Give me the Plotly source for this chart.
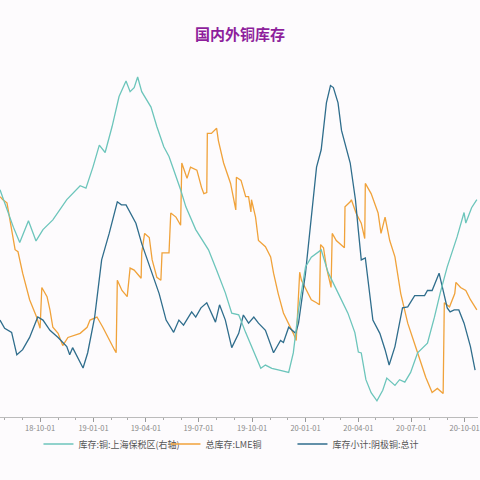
import plotly.graph_objects as go

# 库存:铜:上海保税区 (右轴, 万吨)
teal_dates = ["2018-07-24","2018-08-05","2018-08-16","2018-08-27","2018-09-11","2018-09-24","2018-10-06","2018-10-23","2018-11-16","2018-12-09",
              "2018-12-19","2018-12-31","2019-01-11","2019-01-21","2019-02-02","2019-02-14","2019-02-26","2019-03-05","2019-03-12","2019-03-18",
              "2019-03-25","2019-04-10","2019-04-20","2019-05-02","2019-05-11","2019-05-31","2019-06-09","2019-06-26","2019-07-18","2019-08-01",
              "2019-08-16","2019-08-27","2019-09-08","2019-09-20","2019-10-04","2019-10-16","2019-10-24","2019-11-04","2019-11-15","2019-12-03",
              "2019-12-11","2019-12-20","2020-01-01","2020-01-11","2020-01-28","2020-02-09","2020-02-26","2020-03-14","2020-03-26","2020-04-01",
              "2020-04-06","2020-04-14","2020-04-23","2020-05-03","2020-05-13","2020-05-20","2020-06-03","2020-06-11","2020-06-20","2020-06-30",
              "2020-07-12","2020-07-29","2020-08-10","2020-08-20","2020-09-01","2020-09-18","2020-09-30","2020-10-03","2020-10-13","2020-10-22"]
teal_vals = [48.0,45.5,43.4,41.5,44.2,41.7,43.1,44.3,46.8,48.5,
             48.2,50.8,53.5,52.6,55.8,59.5,61.4,60.1,60.6,61.9,
             60.1,58.2,55.8,53.3,52.1,48.0,45.9,43.1,40.6,38.1,
             35.3,32.8,32.6,30.4,27.9,26.0,26.4,26.0,25.8,25.5,
             27.9,33.2,38.5,39.7,40.6,37.8,35.3,32.8,30.4,28.0,
             27.9,24.6,23.0,22.0,23.3,24.8,23.9,24.6,24.3,25.5,
             27.9,29.1,32.3,35.3,38.5,42.2,45.2,43.9,45.8,46.8]

# 总库存:LME铜 (万吨)
lme_dates = ["2018-07-24","2018-07-29","2018-08-05","2018-08-10","2018-08-19","2018-08-24","2018-09-01","2018-09-13","2018-09-25","2018-10-01",
             "2018-10-04","2018-10-13","2018-10-18","2018-10-23","2018-11-01","2018-11-09","2018-11-18","2018-12-09","2018-12-21","2018-12-26",
             "2019-01-07","2019-01-17","2019-01-28","2019-02-06","2019-02-09","2019-02-11","2019-02-19","2019-02-28","2019-03-05","2019-03-12",
             "2019-03-24","2019-03-25","2019-03-30","2019-04-07","2019-04-12","2019-04-20","2019-04-27","2019-04-29","2019-05-11","2019-05-14",
             "2019-05-23","2019-05-31","2019-06-02","2019-06-11","2019-06-17","2019-06-28","2019-07-06","2019-07-10","2019-07-15","2019-07-16",
             "2019-07-23","2019-08-01","2019-08-04","2019-08-13","2019-08-25","2019-08-30","2019-09-03","2019-09-04","2019-09-12","2019-09-20",
             "2019-09-25","2019-09-29","2019-09-30","2019-10-07","2019-10-12","2019-10-24","2019-11-02","2019-11-07","2019-11-15","2019-11-24",
             "2019-12-03","2019-12-11","2019-12-16","2019-12-22","2019-12-25","2020-01-03","2020-01-11","2020-01-20","2020-01-25","2020-01-27",
             "2020-02-01","2020-02-06","2020-02-14","2020-02-16","2020-02-23","2020-03-08","2020-03-09","2020-03-18","2020-03-20","2020-03-28",
             "2020-04-06","2020-04-12","2020-04-13","2020-04-23","2020-05-05","2020-05-10","2020-05-17","2020-05-25","2020-06-03","2020-06-13",
             "2020-06-25","2020-07-12","2020-07-26","2020-08-06","2020-08-15","2020-08-25","2020-08-27","2020-09-05","2020-09-14","2020-09-16",
             "2020-09-24","2020-10-03","2020-10-11","2020-10-22"]
lme_vals = [27.2,26.9,26.6,24.9,22.0,21.8,19.7,17.1,15.4,14.3,
            18.3,17.4,16.1,14.4,13.8,12.6,13.4,13.8,14.4,15.1,
            15.4,14.4,13.1,12.2,11.9,19.0,18.0,17.4,20.2,20.0,
            19.2,21.7,23.6,23.2,21.0,19.3,19.0,21.7,21.7,25.6,
            25.2,24.4,30.5,29.0,30.1,29.8,28.1,27.5,27.6,33.4,
            33.4,33.9,32.7,30.5,28.5,27.2,25.9,29.1,28.8,27.2,
            27.2,25.7,26.9,25.2,22.9,22.3,21.3,19.7,17.7,15.8,
            14.8,13.8,13.1,19.8,19.0,18.0,17.1,16.8,16.6,22.5,
            22.2,20.3,18.3,23.6,22.9,22.2,26.2,26.7,26.9,25.6,
            24.6,23.1,28.5,27.5,25.6,23.6,25.2,22.9,21.3,17.7,
            14.8,11.9,9.5,8.0,8.4,7.9,16.8,16.4,17.7,18.8,
            18.3,18.0,17.1,16.1]

# 库存小计:阴极铜:总计 (万吨)
shfe_dates = ["2018-07-24","2018-08-01","2018-08-13","2018-08-22","2018-09-01","2018-09-13","2018-09-27","2018-10-06","2018-10-18","2018-11-01",
              "2018-11-16","2018-11-21","2018-11-26","2018-12-14","2018-12-22","2019-01-03","2019-01-15","2019-01-28","2019-02-11","2019-02-18",
              "2019-02-26","2019-03-15","2019-03-25","2019-04-12","2019-04-24","2019-05-06","2019-05-19","2019-05-28","2019-06-05","2019-06-19",
              "2019-06-26","2019-07-05","2019-07-15","2019-07-30","2019-08-06","2019-08-16","2019-08-27","2019-09-08","2019-09-16","2019-09-25",
              "2019-10-04","2019-10-12","2019-10-24","2019-11-07","2019-11-19","2019-11-24","2019-12-03","2019-12-15","2019-12-20","2020-01-01",
              "2020-01-11","2020-01-20","2020-01-28","2020-02-06","2020-02-13","2020-02-18","2020-02-26","2020-03-03","2020-03-18","2020-03-27",
              "2020-04-01","2020-04-06","2020-04-13","2020-04-18","2020-04-26","2020-05-08","2020-05-17","2020-05-24","2020-06-03","2020-06-16",
              "2020-06-25","2020-07-07","2020-07-24","2020-07-29","2020-08-06","2020-08-18","2020-08-27","2020-09-01","2020-09-06","2020-09-13",
              "2020-09-21","2020-09-30","2020-10-11","2020-10-19"]
shfe_vals = [15.1,14.3,13.9,11.7,12.2,13.4,15.4,15.1,14.1,13.4,
             12.5,11.7,12.4,10.4,11.9,15.4,21.0,23.6,26.7,26.4,
             26.4,24.6,22.6,19.7,17.7,15.1,13.9,15.1,14.6,15.9,
             15.4,16.3,16.8,14.9,16.6,15.1,12.4,13.8,15.6,14.8,
             15.4,14.8,14.1,11.9,13.1,12.9,14.4,13.8,14.8,19.7,
             25.2,30.1,31.8,36.4,38.1,37.9,36.4,33.7,30.5,26.9,
             23.9,21.0,21.2,19.0,15.1,13.8,12.2,10.7,12.5,16.3,
             16.4,17.5,17.5,18.0,18.0,19.7,17.7,16.3,15.9,16.1,
             16.1,14.8,12.5,10.2]

names = ["库存:铜:上海保税区(右轴)", "总库存:LME铜", "库存小计:阴极铜:总计"]
colors = ["#6cc5bb", "#f0a23a", "#2f6d8c"]

FONT = "Noto Sans CJK SC"

fig = go.Figure()
fig.add_trace(go.Scatter(x=teal_dates, y=teal_vals, name=names[0], mode="lines",
                         line=dict(color=colors[0], width=1.3), yaxis="y2"))
fig.add_trace(go.Scatter(x=lme_dates, y=lme_vals, name=names[1], mode="lines",
                         line=dict(color=colors[1], width=1.3)))
fig.add_trace(go.Scatter(x=shfe_dates, y=shfe_vals, name=names[2], mode="lines",
                         line=dict(color=colors[2], width=1.3)))

fig.update_layout(
    width=480, height=480,
    margin=dict(l=0, r=0, t=60, b=63),
    paper_bgcolor="#fdfbfd", plot_bgcolor="#fdfbfd",
    font=dict(family=FONT, color="#666666"),
    title=dict(text="<b>国内外铜库存</b>", x=0.5, xanchor="center", y=1 - 35 / 480, yanchor="middle",
               font=dict(size=15, color="#8e1f9c", family=FONT)),
    xaxis=dict(type="date", range=["2018-07-24", "2020-10-24"],
               dtick="M3", tick0="2018-07-01", tickformat="%y-%m-%d",
               showgrid=False, zeroline=False,
               showline=True, linecolor="#bbbbbb", linewidth=1,
               ticks="outside", ticklen=4, tickcolor="#999999",
               ticklabeloverflow="allow",
               tickfont=dict(size=7.5, color="#888888", family=FONT),
               minor=dict(dtick="M1", ticks="outside", ticklen=2, tickcolor="#aaaaaa", showgrid=False)),
    yaxis=dict(range=[5.6, 40.6], visible=False, showgrid=False, zeroline=False),
    yaxis2=dict(range=[20, 64], overlaying="y", side="right", visible=False, showgrid=False, zeroline=False),
    legend=dict(orientation="h", x=0.479, xanchor="center", y=-0.0756, yanchor="middle",
                font=dict(size=9, color="#555555", family=FONT),
                entrywidth=82, entrywidthmode="pixels", bgcolor="rgba(0,0,0,0)"),
    showlegend=True,
)

fig.write_html("out.html")
